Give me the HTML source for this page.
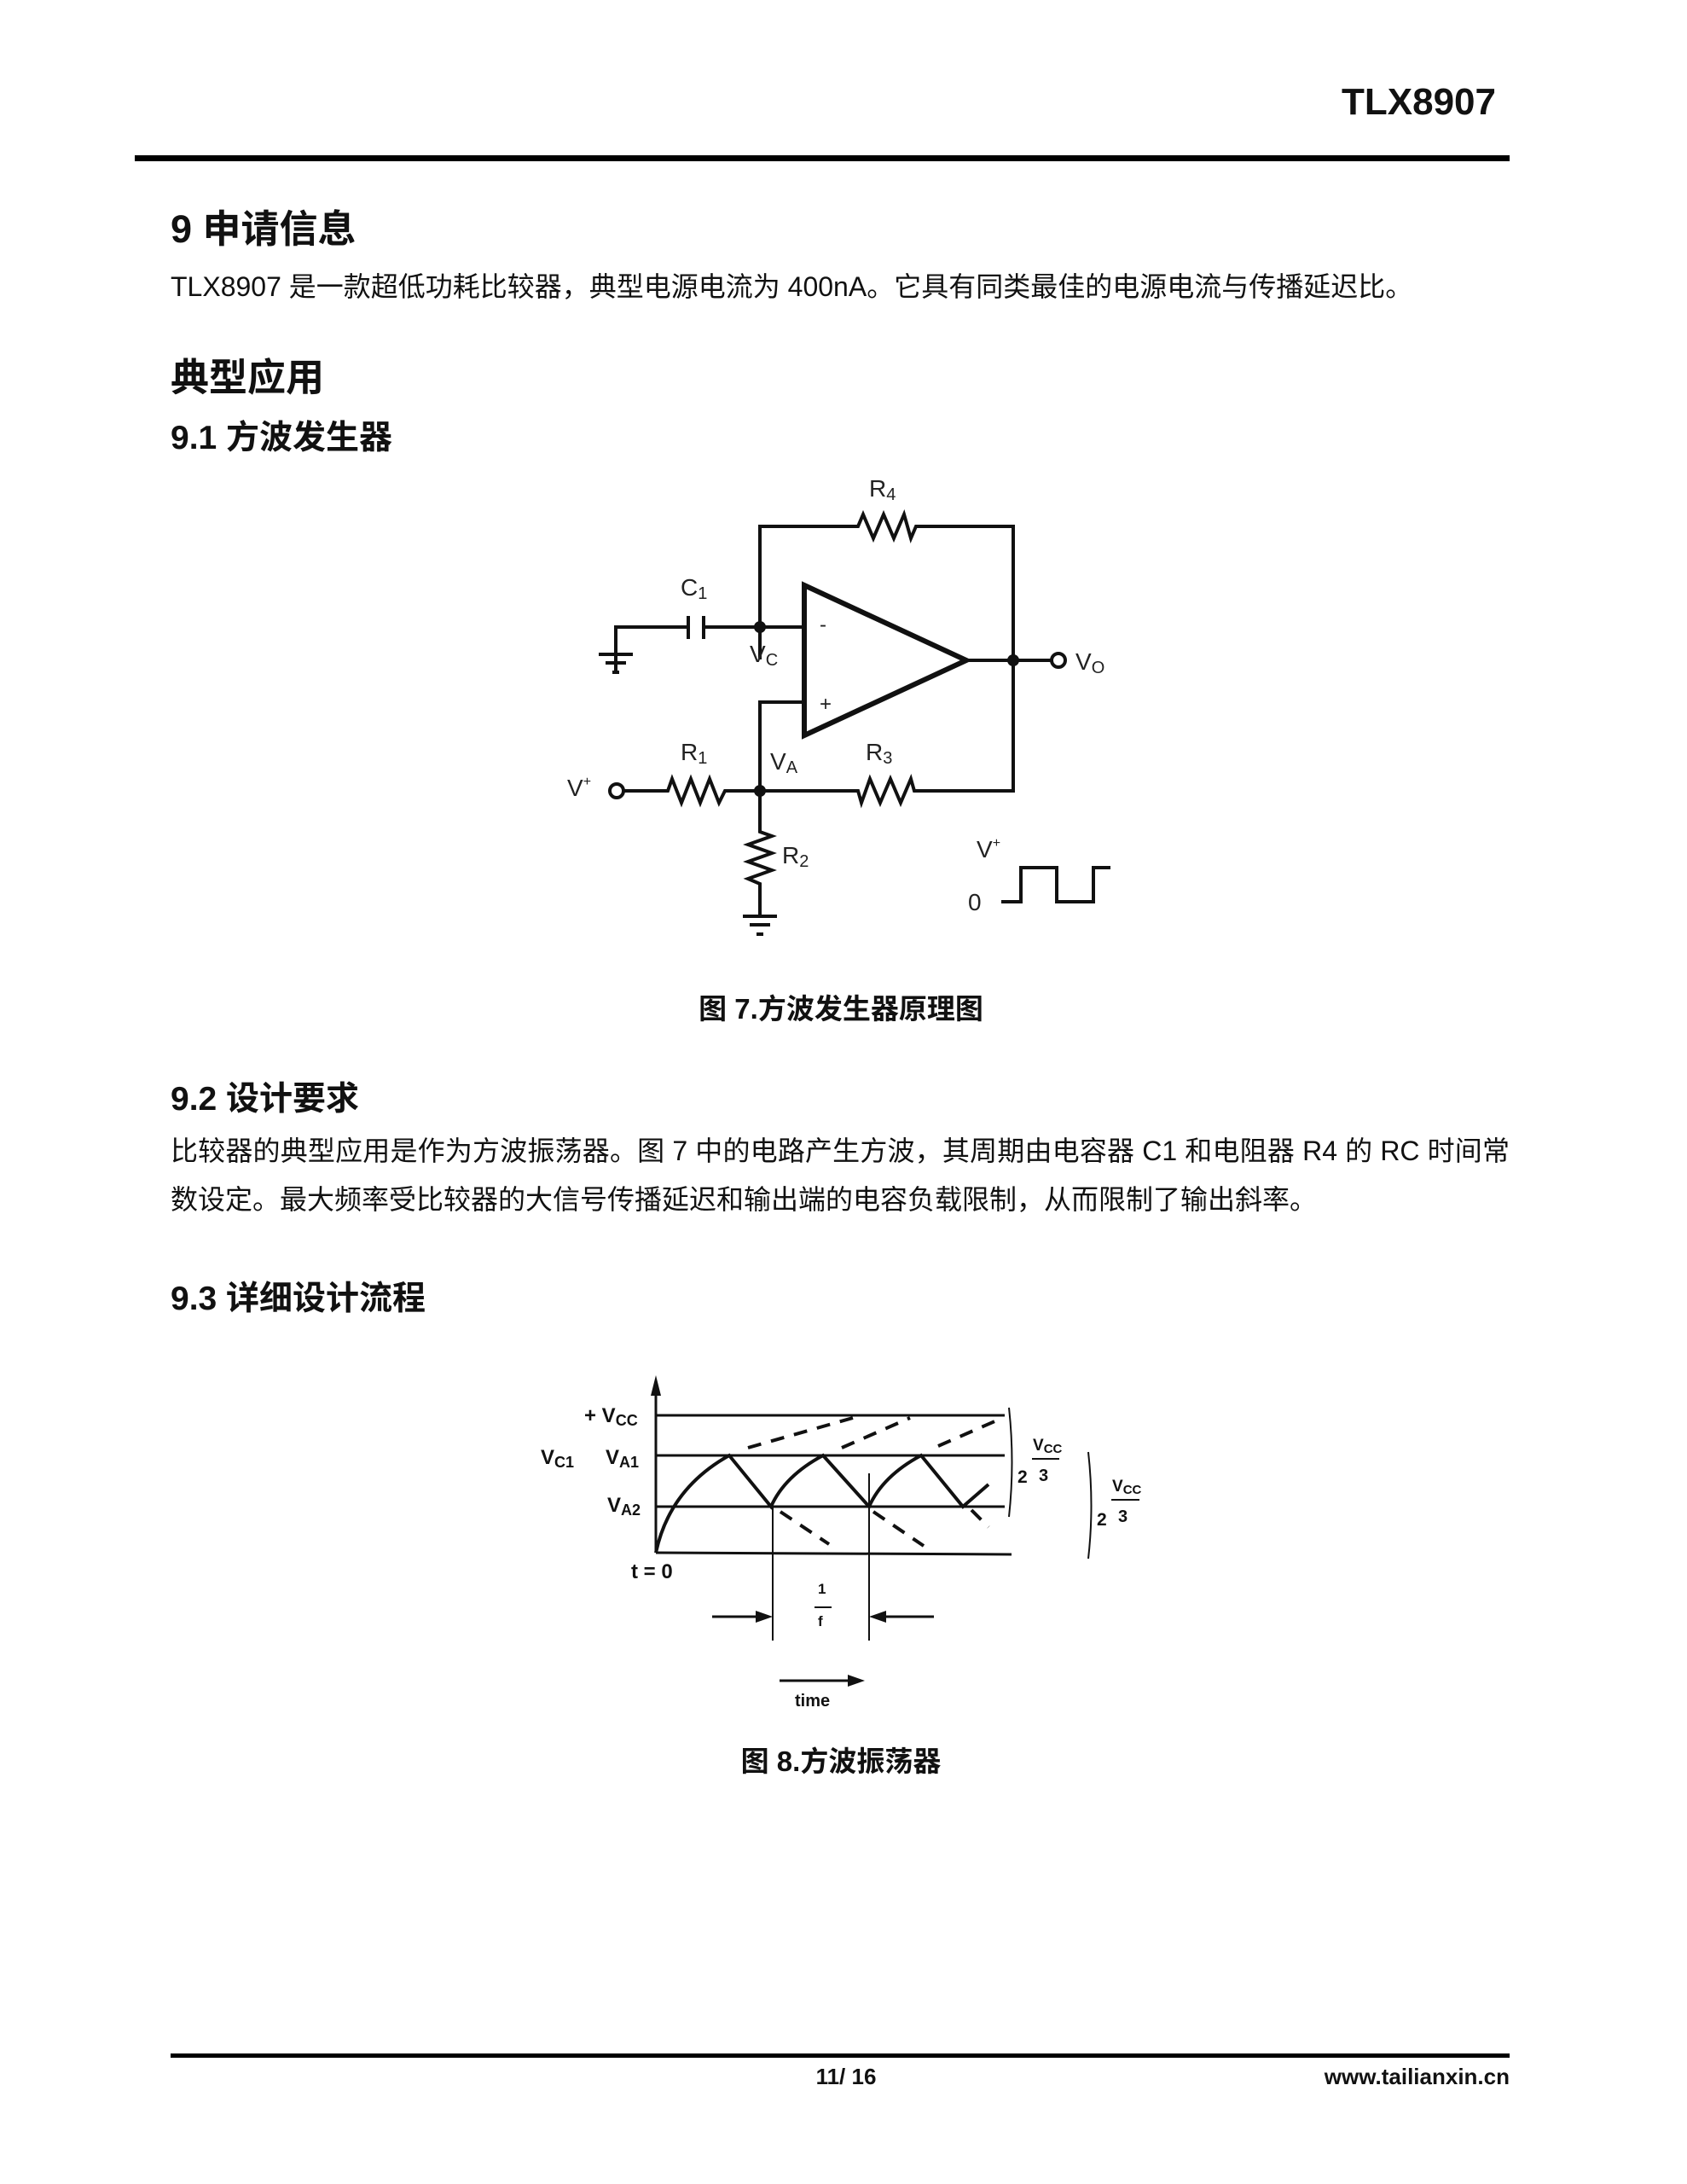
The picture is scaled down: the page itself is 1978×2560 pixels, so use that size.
<!DOCTYPE html>
<html><head><meta charset="utf-8"><style>
body{margin:0;background:#fff;}
#p{position:relative;width:1978px;height:2560px;overflow:hidden;font-family:"Liberation Sans","Noto Sans CJK SC",sans-serif;color:#111;}
.t{position:absolute;white-space:nowrap;line-height:1;}
.b{font-weight:bold;}
</style></head><body><div id="p">
<div class="t b" style="right:224px;top:98px;font-size:44px;">TLX8907</div>
<div style="position:absolute;left:158px;top:182px;width:1612px;height:7px;background:#000"></div>
<div class="t b" style="left:200px;top:246px;font-size:45px;">9 申请信息</div>
<div class="t" style="left:200px;top:320px;font-size:32px;">TLX8907 是一款超低功耗比较器，典型电源电流为 400nA。它具有同类最佳的电源电流与传播延迟比。</div>
<div class="t b" style="left:200px;top:420px;font-size:45px;">典型应用</div>
<div class="t b" style="left:200px;top:494px;font-size:39px;">9.1 方波发生器</div>

<svg style="position:absolute;left:0;top:0" width="1978" height="2560">
<g transform="translate(-5,0)">
<g fill="none" stroke="#111" stroke-width="4" stroke-linejoin="miter">
<polyline points="896,773 896,617 1011,617 1017,603 1029,631 1041,603 1053,631 1065,603 1073,631 1079,617 1193,617 1193,927 1077,927 1073,913 1061,941 1049,913 1037,941 1025,913 1015,941 1011,927 896,927"/>
<polyline points="727,788 727,735 812,735"/>
<line x1="812" y1="722" x2="812" y2="749"/><line x1="830" y1="722" x2="830" y2="749"/>
<polyline points="830,735 948,735"/>
<line x1="707" y1="767" x2="747" y2="767"/><line x1="715" y1="777" x2="739" y2="777"/><line x1="723" y1="788" x2="731" y2="788"/>
<polygon points="948,686 948,862 1138,774" stroke-width="6"/>
<line x1="1138" y1="774" x2="1238" y2="774"/>
<circle cx="1246" cy="774" r="8"/>
<polyline points="948,823 896,823 896,927"/>
<polyline points="736,927 788,927 793,913 804,941 815,913 826,941 837,913 848,941 855,927 896,927"/>
<circle cx="728" cy="927" r="8"/>
<polyline points="896,927 896,975 910,980 882,990 910,1000 882,1010 910,1020 882,1030 896,1036 896,1074"/>
<line x1="876" y1="1074" x2="916" y2="1074"/><line x1="884" y1="1084" x2="908" y2="1084"/><line x1="892" y1="1095" x2="900" y2="1095"/>
<polyline points="1179,1057 1202,1057 1202,1017 1244,1017 1244,1057 1287,1057 1287,1017 1307,1017"/>
</g>
<circle cx="896" cy="735" r="7" fill="#111"/><circle cx="1193" cy="774" r="7" fill="#111"/><circle cx="896" cy="927" r="7" fill="#111"/>
<g font-family="Liberation Sans, sans-serif" font-size="28" fill="#222">
<text x="1024" y="582">R<tspan font-size="20" dy="4">4</tspan></text>
<text x="803" y="698">C<tspan font-size="20" dy="4">1</tspan></text>
<text x="884" y="776">V<tspan font-size="20" dy="4">C</tspan></text>
<text x="966" y="740" font-size="24">-</text>
<text x="966" y="833" font-size="24">+</text>
<text x="1266" y="785">V<tspan font-size="20" dy="4">O</tspan></text>
<text x="803" y="891">R<tspan font-size="20" dy="4">1</tspan></text>
<text x="908" y="902">V<tspan font-size="20" dy="4">A</tspan></text>
<text x="1020" y="891">R<tspan font-size="20" dy="4">3</tspan></text>
<text x="670" y="933">V<tspan font-size="16" dy="-12">+</tspan></text>
<text x="922" y="1012">R<tspan font-size="20" dy="4">2</tspan></text>
<text x="1150" y="1005">V<tspan font-size="16" dy="-12">+</tspan></text>
<text x="1140" y="1067">0</text>
</g>
</g>

<g fill="none" stroke="#111" stroke-width="3">
<line x1="769" y1="1820" x2="769" y2="1625"/>
<line x1="769" y1="1659" x2="1178" y2="1659"/>
<line x1="769" y1="1706" x2="1178" y2="1706"/>
<line x1="769" y1="1766" x2="1178" y2="1766"/>
<line x1="769" y1="1820" x2="1186" y2="1822"/>
<path d="M769,1820 Q785,1745 855,1706 L904,1766 Q920,1730 965,1706 L1019,1766 Q1035,1730 1080,1706 L1129,1766 L1159,1740" stroke-width="4"/>
<g stroke-dasharray="16,12" stroke-width="4">
<line x1="877" y1="1697" x2="1000" y2="1662"/>
<line x1="987" y1="1697" x2="1067" y2="1662"/>
<line x1="1100" y1="1695" x2="1171" y2="1664"/>
<line x1="915" y1="1772" x2="972" y2="1810"/>
<line x1="1024" y1="1772" x2="1083" y2="1812"/>
<line x1="1139" y1="1770" x2="1159" y2="1790"/>
</g>
<line x1="906" y1="1766" x2="906" y2="1923" stroke-width="2"/>
<line x1="1019" y1="1727" x2="1019" y2="1923" stroke-width="2"/>
<line x1="835" y1="1895" x2="896" y2="1895"/>
<line x1="1030" y1="1895" x2="1095" y2="1895"/>
<line x1="955" y1="1884" x2="975" y2="1884" stroke-width="2"/>
<line x1="914" y1="1970" x2="998" y2="1970"/>
<path d="M1183,1650 Q1190,1714 1183,1778 M1276,1702 Q1283,1765 1276,1827" stroke-width="2"/>
</g>
<g fill="#111">
<polygon points="769,1612 763,1636 775,1636"/>
<polygon points="906,1895 886,1888 886,1902"/>
<polygon points="1019,1895 1039,1888 1039,1902"/>
<polygon points="1014,1970 994,1963 994,1977"/>
</g>
<g font-family="Liberation Sans, sans-serif" font-size="24" fill="#111" font-weight="bold">
<text x="685" y="1667">+ V<tspan font-size="18" dy="4">CC</tspan></text>
<text x="634" y="1716">V<tspan font-size="18" dy="4">C1</tspan></text>
<text x="710" y="1716">V<tspan font-size="18" dy="4">A1</tspan></text>
<text x="712" y="1772">V<tspan font-size="18" dy="4">A2</tspan></text>
<text x="740" y="1850">t = 0</text>
<text x="959" y="1868" font-size="17">1</text>
<text x="959" y="1906" font-size="17">f</text>
<text x="932" y="2000" font-size="20">time</text>
<text x="1193" y="1738" font-size="21">2</text>
<text x="1211" y="1700" font-size="19">V<tspan font-size="15" dy="3">CC</tspan></text>
<line x1="1210" y1="1710" x2="1242" y2="1710" stroke="#111" stroke-width="2"/>
<text x="1218" y="1736" font-size="20">3</text>
<text x="1286" y="1788" font-size="21">2</text>
<text x="1304" y="1748" font-size="19">V<tspan font-size="15" dy="3">CC</tspan></text>
<line x1="1303" y1="1758" x2="1336" y2="1758" stroke="#111" stroke-width="2"/>
<text x="1311" y="1784" font-size="20">3</text>
</g>
</svg>

<div class="t b" style="left:0;width:1972px;text-align:center;top:1166px;font-size:33px;">图 7.方波发生器原理图</div>
<div class="t b" style="left:200px;top:1269px;font-size:39px;">9.2 设计要求</div>
<div class="t" style="left:200px;width:1570px;top:1333px;font-size:32px;text-align:justify;text-align-last:justify;">比较器的典型应用是作为方波振荡器。图 7 中的电路产生方波，其周期由电容器 C1 和电阻器 R4 的 RC 时间常</div>
<div class="t" style="left:200px;top:1390px;font-size:32px;">数设定。最大频率受比较器的大信号传播延迟和输出端的电容负载限制，从而限制了输出斜率。</div>
<div class="t b" style="left:200px;top:1503px;font-size:39px;">9.3 详细设计流程</div>
<div class="t b" style="left:0;width:1972px;text-align:center;top:2048px;font-size:33px;">图 8.方波振荡器</div>
<div style="position:absolute;left:200px;top:2407px;width:1570px;height:5px;background:#000"></div>
<div class="t b" style="left:0;width:1984px;text-align:center;top:2421px;font-size:26px;">11/ 16</div>
<div class="t b" style="right:208px;top:2421px;font-size:26px;">www.tailianxin.cn</div>
</div></body></html>
